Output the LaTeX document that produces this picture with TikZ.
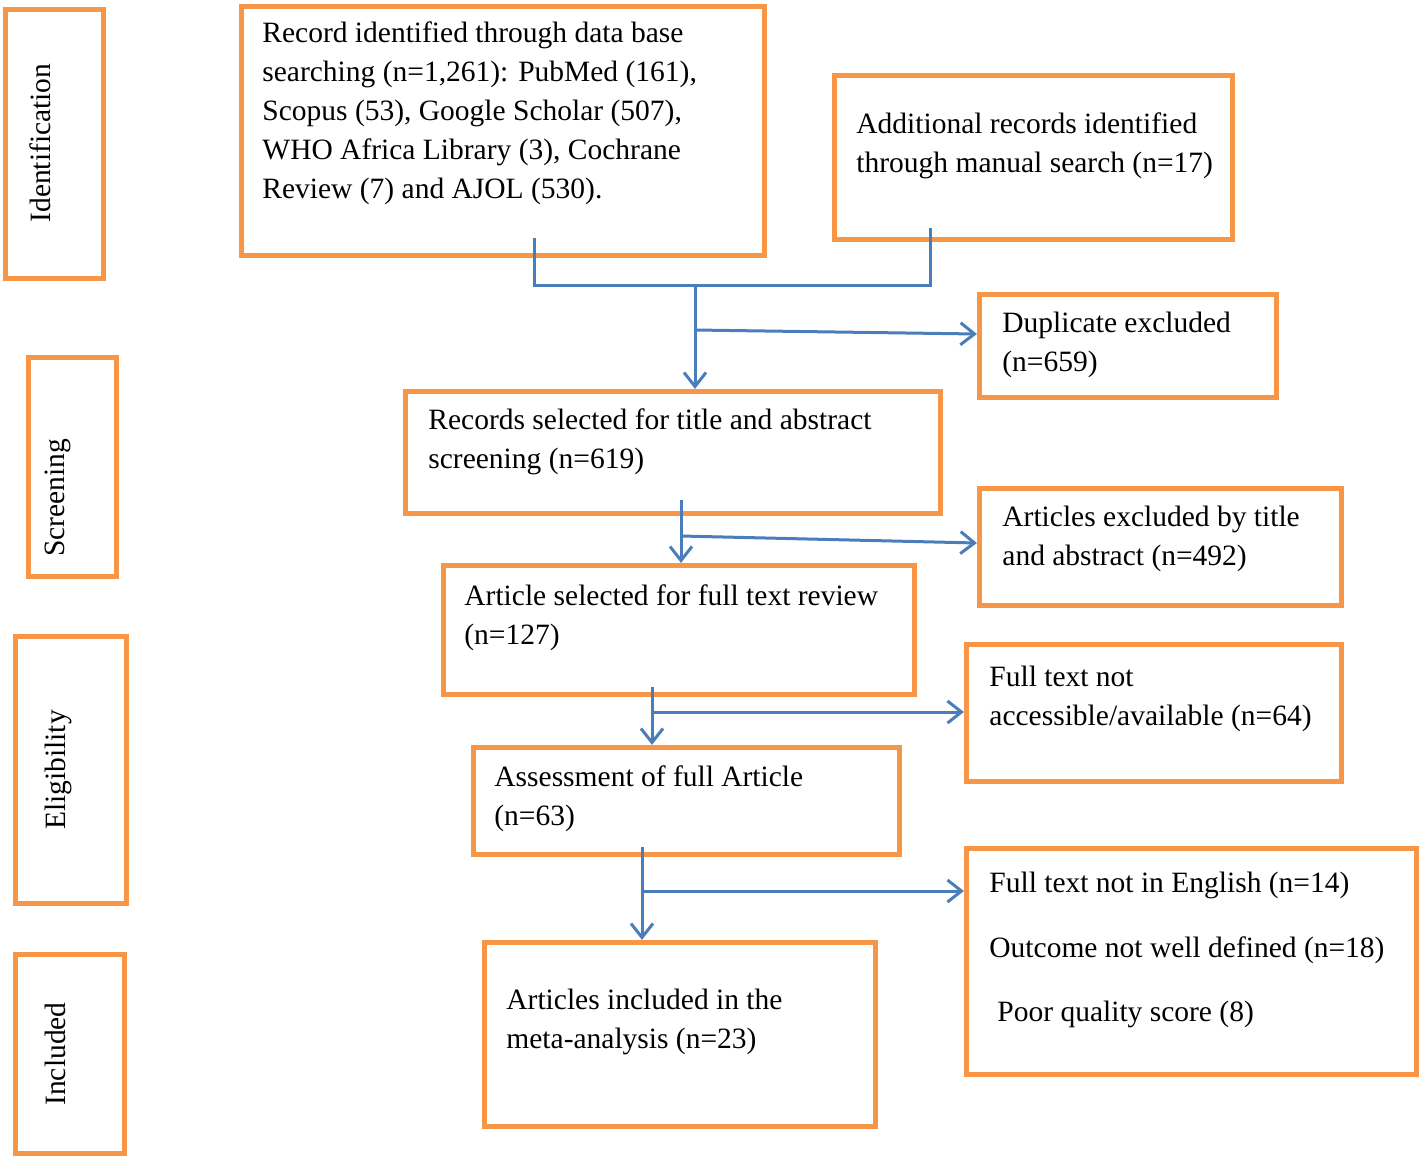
\documentclass[tikz,border=0pt]{standalone}
\usepackage{fontspec}
\setmainfont{Liberation Serif}
\usepackage{xcolor}
\usetikzlibrary{fit,arrows.meta}

\definecolor{boxorange}{HTML}{F79646}
\definecolor{linkblue}{HTML}{4A7EBB}

\tikzset{
    box/.style={draw=boxorange, line width=2.6pt, inner sep=0pt},
    txt/.style={anchor=north west, align=left, inner sep=0pt, font=\fontsize{14.75}{19.5}\selectfont},
    phase/.style={rotate=90, inner sep=0pt, font=\fontsize{14.75}{19.5}\selectfont},
    link/.style={draw=linkblue, line width=1.5pt},
    arr/.style={link, -{Straight Barb[length=7pt, width=11pt, line width=1.5pt]}}
}

\begin{document}
\begin{tikzpicture}[x=0.5pt, y=-0.5pt]
                \useasboundingbox (0,0) rectangle (1420,1158);

                % phase boxes
                \node[box, fit={(5.5,9.5) (103.5,278.5)}]       (ident)  {};
                \node[box, fit={(28.5,357.5) (116.5,576.5)}]    (screen) {};
                \node[box, fit={(15.5,636.5) (126.5,903.5)}]    (elig)   {};
                \node[box, fit={(15.5,954.5) (124.5,1153.5)}]   (incl)   {};

                \node[phase] (ident-t)  at (40,143)  {Identification};
                \node[phase] (screen-t) at (58,498)  {Screening};
                \node[phase] (elig-t)   at (58,770)  {Eligibility};
                \node[phase] (incl-t)   at (55,1054) {Included};

                % flow boxes
                \node[box, fit={(241.5,6.5) (764.5,255.5)}]     (db)     {};
                \node[box, fit={(834.5,75.5) (1232.5,239.5)}]   (add)    {};
                \node[box, fit={(979.5,294.5) (1276.5,397.5)}]  (dup)    {};
                \node[box, fit={(405.5,391.5) (940.5,513.5)}]   (sel)    {};
                \node[box, fit={(979.5,488.5) (1341.5,605.5)}]  (exab)   {};
                \node[box, fit={(443.5,565.5) (914.5,694.5)}]   (full)   {};
                \node[box, fit={(966.5,644.5) (1341.5,781.5)}]  (noacc)  {};
                \node[box, fit={(473.5,747.5) (899.5,854.5)}]   (assess) {};
                \node[box, fit={(966.5,848.5) (1416.5,1074.5)}] (excl)   {};
                \node[box, fit={(484.5,942.5) (875.5,1126.5)}]  (meta)   {};

                \node[txt] (db-t) at (262,21) {Record identified through data base\\
                    searching (n=1,261): PubMed (161),\\
                    Scopus (53), Google Scholar (507),\\
                    WHO Africa Library (3), Cochrane\\
                    Review (7) and AJOL (530).};
                \node[txt] (add-t)    at (856,112)  {Additional records identified\\through manual search (n=17)};
                \node[txt] (dup-t)    at (1002,312) {Duplicate excluded\\(n=659)};
                \node[txt] (sel-t)    at (428,408)  {Records selected for title and abstract\\screening (n=619)};
                \node[txt] (exab-t)   at (1002,506) {Articles excluded by title\\and abstract (n=492)};
                \node[txt] (full-t)   at (464,584)  {Article selected for full text review\\(n=127)};
                \node[txt] (noacc-t)  at (989,666)  {Full text not\\accessible/available (n=64)};
                \node[txt] (assess-t) at (494,765)  {Assessment of full Article\\(n=63)};
                \node[txt] (excl-t)   at (989,872)  {Full text not in English (n=14)\\[12.75pt]
                    Outcome not well defined (n=18)\\[12.75pt]
                    \hspace*{4pt}Poor quality score (8)};
                \node[txt] (meta-t)   at (506,989)  {Articles included in the\\meta-analysis (n=23)};

                % connectors
                \coordinate (dbfoot)  at (534,238);
                \coordinate (addfoot) at (930,228);
                \coordinate (join)    at (695,285);
                \coordinate (b1)      at (695,330);
                \coordinate (selfoot) at (681,500);
                \coordinate (b2)      at (681,536);
                \coordinate (fullfoot) at (652,687);
                \coordinate (b3)      at (652,712);
                \coordinate (assfoot) at (642,847);
                \coordinate (b4)      at (642,891);

                \draw[link] (dbfoot) -- (dbfoot |- join) -- (addfoot |- join) -- (addfoot);
                \draw[arr] (join) -- (join |- sel.north);
                \draw[arr] (b1) -- ([yshift=6pt]dup.west);

                \draw[arr] (selfoot) -- (selfoot |- full.north);
                \draw[arr] (b2) -- ([yshift=2pt]exab.west);

                \draw[arr] (fullfoot) -- (fullfoot |- assess.north);
                \draw[arr] (b3) -- (b3 -| noacc.west);

                \draw[arr] (assfoot) -- (assfoot |- meta.north);
                \draw[arr] (b4) -- (b4 -| excl.west);
            \end{tikzpicture}
\end{document}
